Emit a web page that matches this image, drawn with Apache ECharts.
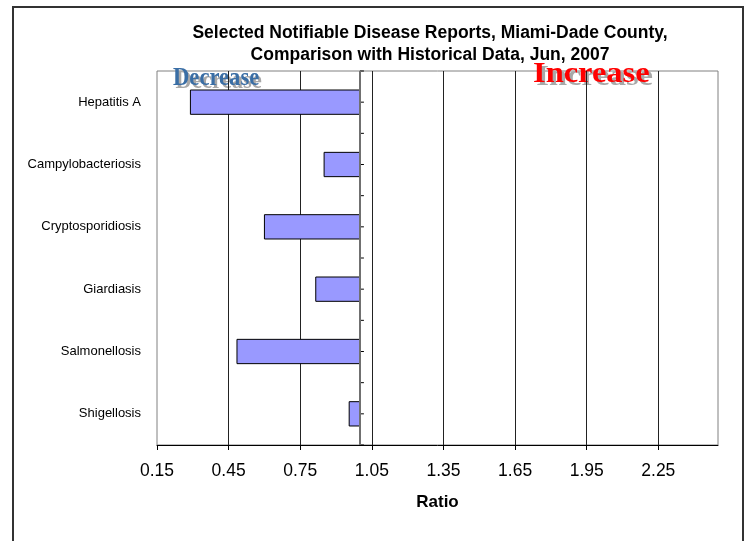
<!DOCTYPE html>
<html>
<head>
<meta charset="utf-8">
<script src="https://cdn.jsdelivr.net/npm/echarts@6/dist/echarts.min.js"></script>
<style>
  html, body { margin: 0; padding: 0; background: #fff; }
  #chart { width: 747px; height: 541px; }
</style>
</head>
<body>
<div id="chart"></div>
<script>
// Disease categories, top to bottom
const categories = ['Hepatitis A', 'Campylobacteriosis', 'Cryptosporidiosis', 'Giardiasis', 'Salmonellosis', 'Shigellosis'];
// Ratio of current reports to historical data
const ratios = [0.29, 0.85, 0.60, 0.815, 0.485, 0.955];
// Ratio where bars start (no change)
const baseline = 1.0;
// Ratio axis range and tick step
const axisMin = 0.15;
const axisMax = 2.5;
const axisStep = 0.3;

const FONT = '"Liberation Sans", Arial, sans-serif';
const SERIF = '"Liberation Serif", "Times New Roman", serif';

const chart = echarts.init(document.getElementById('chart'), null, { renderer: 'canvas' });

// Horizontal bars running from the baseline to each ratio
function renderBar(params, api) {
  const v = api.value(0);
  const c = api.value(1);
  const start = api.coord([baseline, c]);
  const end = api.coord([v, c]);
  const h = api.size([0, 1])[1] * 0.39;
  const x0 = Math.min(start[0], end[0]);
  return {
    type: 'rect',
    shape: { x: x0, y: start[1] - h / 2, width: Math.abs(start[0] - end[0]), height: h },
    style: { fill: '#9999FF', stroke: '#000', lineWidth: 1 }
  };
}

// Small ticks on the baseline line, at band centres and band edges
function renderTicks(params, api) {
  const c = api.value(1);
  const p = api.coord([baseline, c]);
  const band = api.size([0, 1])[1];
  const ys = [p[1] - band / 2, p[1]];
  if (params.dataIndex === categories.length - 1) ys.push(p[1] + band / 2);
  return {
    type: 'group',
    children: ys.map(y => ({
      type: 'line',
      shape: { x1: p[0], y1: y, x2: p[0] + 4, y2: y },
      style: { stroke: '#000', lineWidth: 1 }
    }))
  };
}

const barData = categories.map((c, i) => [ratios[i], c]);

function shadowText(text, x, y, size, scaleX, color) {
  const font = 'bold ' + size + 'px ' + SERIF;
  return {
    type: 'group',
    x: x, y: y, scaleX: scaleX,
    children: [
      { type: 'text', x: 3, y: 3, style: { text: text, font: font, fill: '#a8a8a8', textVerticalAlign: 'middle' } },
      { type: 'text', x: 0, y: 0, style: { text: text, font: font, fill: color, textVerticalAlign: 'middle' } }
    ]
  };
}

chart.setOption({
  animation: false,
  backgroundColor: '#fff',
  title: {
    text: 'Selected Notifiable Disease Reports, Miami-Dade County,\nComparison with Historical Data, Jun, 2007',
    left: 425,
    top: 17,
    textAlign: 'center',
    textStyle: { fontFamily: FONT, fontSize: 17.5, fontWeight: 'bold', color: '#000', lineHeight: 22 }
  },
  grid: {
    left: 157, right: 29, top: 71, bottom: 96,
    show: true, borderColor: '#808080', borderWidth: 1, backgroundColor: '#fff'
  },
  xAxis: {
    type: 'value',
    min: axisMin,
    max: axisMax,
    interval: axisStep,
    name: 'Ratio',
    nameLocation: 'middle',
    nameGap: 49,
    nameTextStyle: { fontFamily: FONT, fontSize: 17, fontWeight: 'bold', color: '#000' },
    axisLine: { show: true, lineStyle: { color: '#000', width: 1 } },
    axisTick: { show: true, length: 5, lineStyle: { color: '#000' } },
    axisLabel: {
      fontFamily: FONT, fontSize: 17.5, color: '#000', margin: 17,
      showMaxLabel: false,
      formatter: v => v.toFixed(2)
    },
    splitLine: { show: true, showMinLine: false, showMaxLine: false, lineStyle: { color: '#222', width: 1 } }
  },
  yAxis: {
    type: 'category',
    data: categories,
    inverse: true,
    axisLine: { show: false },
    axisTick: { show: false },
    splitLine: { show: false },
    axisLabel: { fontFamily: FONT, fontSize: 13, color: '#000', margin: 16 }
  },
  series: [
    {
      type: 'custom',
      renderItem: renderBar,
      encode: { x: 0, y: 1 },
      data: barData,
      z: 2
    },
    {
      type: 'custom',
      renderItem: renderTicks,
      encode: { x: 0, y: 1 },
      data: barData,
      z: 4,
      markLine: {
        silent: true,
        symbol: 'none',
        label: { show: false },
        lineStyle: { color: '#707070', width: 2, type: 'solid' },
        data: [{ xAxis: baseline }]
      }
    }
  ],
  graphic: [
    {
      type: 'rect',
      shape: { x: 13, y: 7, width: 730, height: 560 },
      style: { fill: 'none', stroke: '#333', lineWidth: 2 },
      silent: true
    },
    shadowText('Decrease', 173, 78, 26, 0.87, '#3A6EA5'),
    shadowText('Increase', 533, 75, 29, 1.12, '#FF0000')
  ]
});
</script>
</body>
</html>
